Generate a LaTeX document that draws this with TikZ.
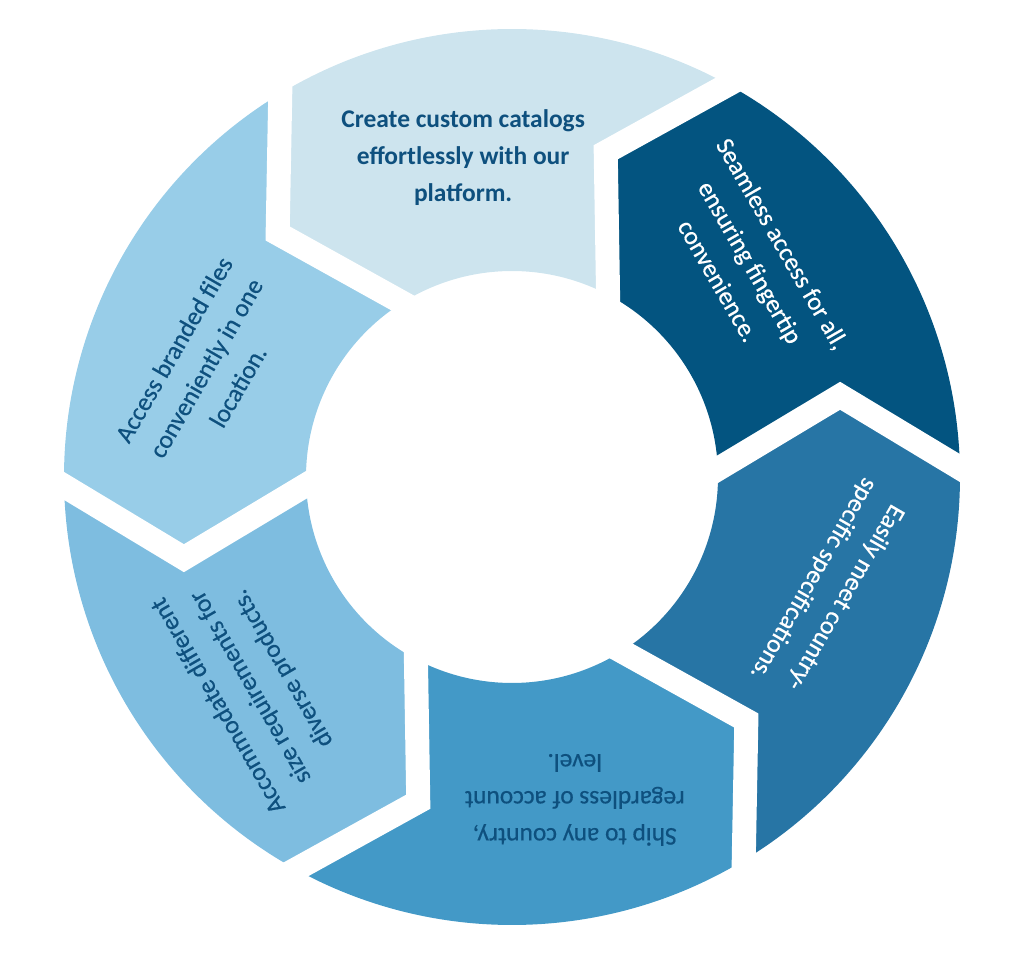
\documentclass[tikz,border=0pt]{standalone}
\usepackage{fontspec}
\setmainfont{Carlito}
\newfontfamily\labelfont[FakeBold=0.5]{Carlito}
\usetikzlibrary{calc}
\definecolor{segcatalog}{RGB}{205, 228, 238}
\definecolor{segaccess}{RGB}{3, 84, 128}
\definecolor{segcountry}{RGB}{39, 117, 165}
\definecolor{segship}{RGB}{67, 153, 199}
\definecolor{segsize}{RGB}{126, 189, 224}
\definecolor{segfiles}{RGB}{152, 205, 232}
\definecolor{inkblue}{RGB}{14, 80, 126}

\begin{document}
\begin{tikzpicture}[
    x=0.75pt, y=0.75pt,
    seglabel/.style={align=center, inner sep=0pt, font=\labelfont\fontsize{19.1}{27.75}\selectfont},
    gapline/.style={white, line width=18pt, line join=miter},
]
    \useasboundingbox (-512,-478) rectangle (512,477);

    % --- RING: six chevron segments ---
    \foreach \ax/\col in {90/segcatalog, 30/segaccess, -30/segcountry, -90/segship, -150/segsize, 150/segfiles} {
        \pgfmathsetmacro{\bA}{\ax-30}
        \pgfmathsetmacro{\bB}{\ax+30}
        \fill[\col] (\bA+1.15:448) arc[start angle=\bA+1.15, end angle=\bB+1.15, radius=448]
            -- (\bB+13.9:338) -- (\bB+2.2:206)
            arc[start angle=\bB+2.2, end angle=\bA+2.2, radius=206]
            -- (\bA+13.9:338) -- cycle;
    }

    % --- GAPS between segments ---
    \foreach \b in {0,60,...,300} {
        \coordinate (gapout) at (\b+1.15:448);
        \coordinate (gaptip) at (\b+13.9:338);
        \coordinate (gapin) at (\b+2.2:206);
        \draw[gapline] ($(gaptip)!1.3!(gapout)$) -- (gaptip) -- ($(gaptip)!1.3!(gapin)$);
    }

    % --- LABELS ---
    \node[seglabel, text=inkblue, font=\rmfamily\fontsize{19.1}{27.75}\selectfont\bfseries] (catalog) at (98.7:323)
        {Create custom catalogs\\effortlessly with our\\platform.};
    \node[seglabel, text=white, rotate=-60] (access) at (42:321)
        {Seamless access for all,\\ensuring fingertip\\convenience.};
    \node[seglabel, text=white, rotate=-120] (country) at (-19.3:336)
        {Easily meet country-\\specific specifications.};
    \node[seglabel, text=inkblue, rotate=180] (ship) at (-79:329)
        {Ship to any country,\\regardless of account\\level.};
    \node[seglabel, text=inkblue, rotate=120] (size) at (-141.2:335)
        {Accommodate different\\size requirements for\\diverse products.};
    \node[seglabel, text=inkblue, rotate=60] (files) at (160.4:325)
        {Access branded files\\conveniently in one\\location.};
\end{tikzpicture}
\end{document}
